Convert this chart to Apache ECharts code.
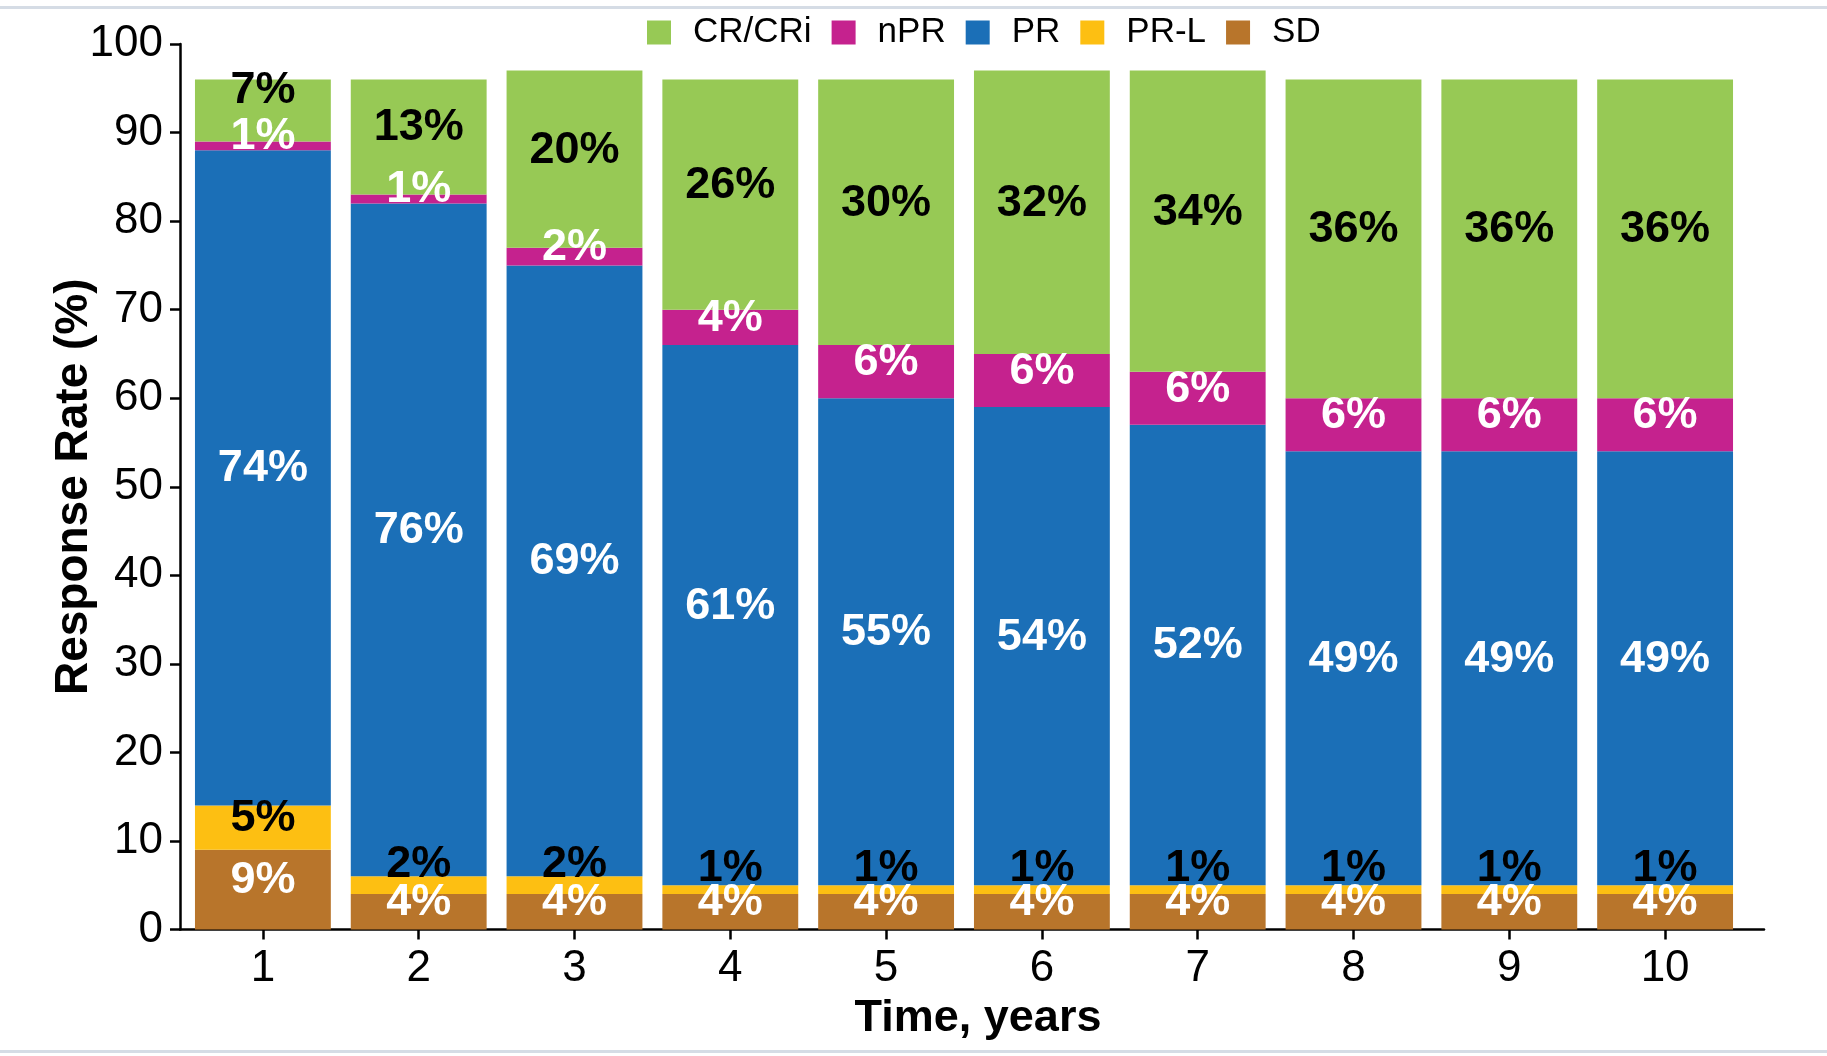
<!DOCTYPE html>
<html>
<head>
<meta charset="utf-8">
<title>Response Rate over Time</title>
<script src="https://cdn.jsdelivr.net/npm/echarts@6/dist/echarts.min.js"></script>
<style>
  html, body { margin: 0; padding: 0; background: #ffffff; }
  #chart { width: 1827px; height: 1056px; }
</style>
</head>
<body>
<div id="chart"></div>
<script>
// Years of follow-up
const categories = ['1', '2', '3', '4', '5', '6', '7', '8', '9', '10'];

// Response category shares (%) per year, stacked bottom to top
const sdValues   = [9, 4, 4, 4, 4, 4, 4, 4, 4, 4];
const prlValues  = [5, 2, 2, 1, 1, 1, 1, 1, 1, 1];
const prValues   = [74, 76, 69, 61, 55, 54, 52, 49, 49, 49];
const nprValues  = [1, 1, 2, 4, 6, 6, 6, 6, 6, 6];
const crValues   = [7, 13, 20, 26, 30, 32, 34, 36, 36, 36];

const legendOrder = ['CR/CRi', 'nPR', 'PR', 'PR-L', 'SD'];

const FONT = '"Liberation Sans", Arial, Helvetica, sans-serif';

const colors = {
  'CR/CRi': '#97c955',
  'nPR': '#c5228e',
  'PR': '#1b6fb7',
  'PR-L': '#fdbf12',
  'SD': '#b8752b'
};

function labelStyle(color) {
  return {
    show: true,
    position: 'inside',
    color: color,
    fontFamily: FONT,
    fontWeight: 'bold',
    fontSize: 45,
    offset: [0, -9],
    formatter: p => p.value + '%'
  };
}

// thin segments push their label up so it clears the segment below
function items(values, smallLimit, smallOffset) {
  return values.map(v => v <= smallLimit
    ? { value: v, label: { offset: [0, smallOffset] } }
    : v);
}

function barSeries(name, data, labelColor) {
  return {
    name: name,
    type: 'bar',
    stack: 'total',
    xAxisIndex: 0,
    yAxisIndex: 0,
    barCategoryGap: '12.8%',
    itemStyle: { color: colors[name] },
    label: labelStyle(labelColor),
    emphasis: { disabled: true },
    data: data
  };
}

const chart = echarts.init(document.getElementById('chart'), null, { renderer: 'canvas' });

chart.setOption({
  animation: false,
  backgroundColor: '#ffffff',
  graphic: [
    { type: 'rect', left: 0, top: 6, shape: { width: 1827, height: 3 }, style: { fill: '#d5dce5' }, silent: true },
    { type: 'rect', left: 0, top: 1050, shape: { width: 1827, height: 3 }, style: { fill: '#d5dce5' }, silent: true }
  ],
  legend: {
    data: legendOrder,
    left: 642,
    top: 10,
    itemWidth: 24,
    itemHeight: 24,
    itemGap: 20,
    icon: 'rect',
    selectedMode: false,
    textStyle: {
      fontFamily: FONT,
      fontSize: 35,
      color: '#000000',
      padding: [0, 0, 0, 17]
    }
  },
  grid: [
    { left: 185, right: 84, top: 44, bottom: 126.5, containLabel: false },
    { left: 180, right: 63, top: 44, bottom: 126.5, containLabel: false }
  ],
  xAxis: [
    {
      type: 'category',
      gridIndex: 0,
      data: categories,
      axisLine: { show: false },
      axisTick: { show: true, alignWithLabel: true, length: 10, lineStyle: { color: '#000', width: 2.5 } },
      axisLabel: { color: '#000', fontFamily: FONT, fontSize: 44, margin: 17 },
      name: 'Time, years',
      nameLocation: 'middle',
      nameGap: 67,
      nameMoveOverlap: false,
      nameTextStyle: { color: '#000', fontFamily: FONT, fontSize: 45, fontWeight: 'bold', padding: [0, 0, 0, 28] }
    },
    {
      type: 'value',
      gridIndex: 1,
      min: 0,
      max: 1,
      axisLine: { show: true, onZero: false, lineStyle: { color: '#000', width: 2.5 } },
      axisTick: { show: false },
      axisLabel: { show: false },
      splitLine: { show: false }
    }
  ],
  yAxis: [
    {
      type: 'value',
      gridIndex: 0,
      min: 0,
      max: 100,
      interval: 10,
      show: false
    },
    {
      type: 'value',
      gridIndex: 1,
      min: 0,
      max: 100,
      interval: 10,
      axisLine: { show: true, lineStyle: { color: '#000', width: 2.5 } },
      axisTick: { show: true, length: 10, lineStyle: { color: '#000', width: 2.5 } },
      axisLabel: { color: '#000', fontFamily: FONT, fontSize: 44, margin: 17 },
      splitLine: { show: false },
      name: 'Response Rate (%)',
      nameLocation: 'middle',
      nameGap: 83,
      nameRotate: 90,
      nameMoveOverlap: false,
      nameTextStyle: { color: '#000', fontFamily: FONT, fontSize: 46, fontWeight: 'bold' }
    }
  ],
  series: [
    barSeries('SD', sdValues, '#ffffff'),
    barSeries('PR-L', items(prlValues, 2, -21), '#000000'),
    barSeries('PR', prValues, '#ffffff'),
    barSeries('nPR', nprValues, '#ffffff'),
    barSeries('CR/CRi', items(crValues, 9, -20), '#000000')
  ]
});
</script>
</body>
</html>
